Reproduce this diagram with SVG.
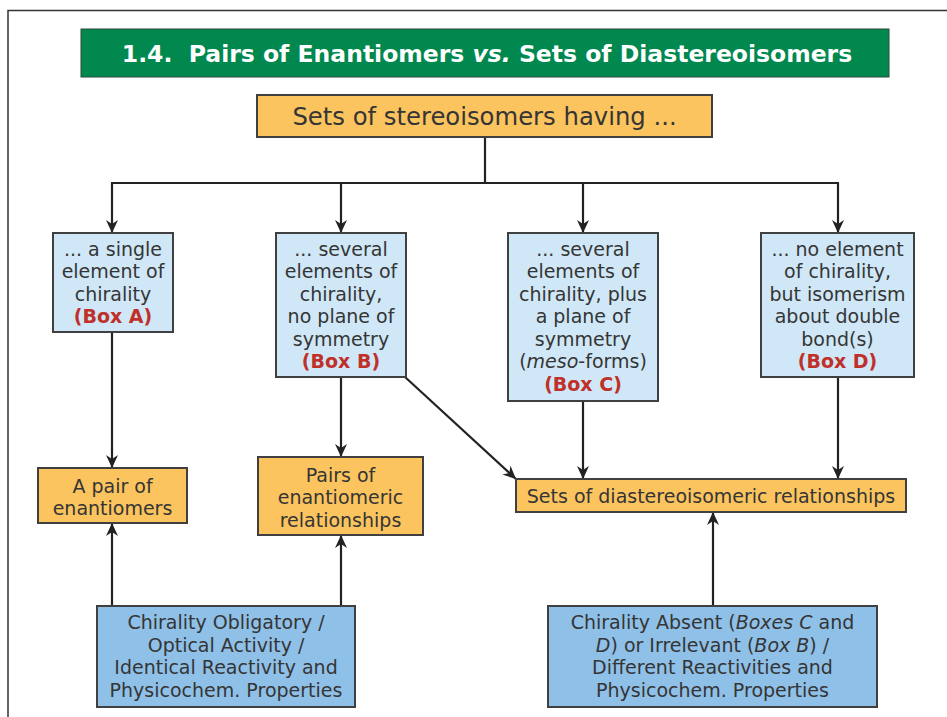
<svg xmlns="http://www.w3.org/2000/svg" width="947" height="717" viewBox="0 0 947 717">
  <style>
    .t { font-family: "DejaVu Sans", Verdana, sans-serif; fill: #353535; text-anchor: middle; }
    .box { font-size: 19px; }
    .red { fill: #c0302a; font-weight: bold; }
    .yel { fill: #fbc45e; stroke: #404040; stroke-width: 2; }
    .lb { fill: #cfe7f6; stroke: #404040; stroke-width: 2; }
    .db { fill: #8fc0e8; stroke: #404040; stroke-width: 2; }
    .conn { fill: none; stroke: #222222; stroke-width: 2.2; }
    .arr { marker-end: url(#ah); }
  </style>
  <defs>
    <marker id="ah" markerUnits="userSpaceOnUse" markerWidth="14" markerHeight="14" refX="13" refY="7" orient="auto">
      <path d="M0,1 L13,7 L0,13 L4,7 z" fill="#222222"/>
    </marker>
  </defs>

  <!-- page frame -->
  <rect x="0" y="0" width="947" height="717" fill="#ffffff"/>
  <path d="M8,730 L8,10.5 L960,10.5" fill="none" stroke="#333333" stroke-width="1.5"/>

  <!-- title banner -->
  <g id="title">
    <rect x="81" y="29" width="808" height="48" fill="#00884f" stroke="#2b4a3a" stroke-width="1"/>
    <text x="487" y="61.5" class="t" style="fill:#ffffff;font-weight:bold;font-size:23.5px">1.4.&#160; Pairs of Enantiomers <tspan font-style="italic">vs.</tspan> Sets of Diastereoisomers</text>
  </g>

  <!-- connectors -->
  <g id="connectors">
    <path class="conn" d="M485,137 L485,183 M111,183 L839,183"/>
    <path class="conn arr" d="M112,183 L112,233"/>
    <path class="conn arr" d="M341,183 L341,233"/>
    <path class="conn arr" d="M583,183 L583,233"/>
    <path class="conn arr" d="M838,183 L838,233"/>
    <path class="conn arr" d="M112,332 L112,468"/>
    <path class="conn arr" d="M341,377 L341,457"/>
    <path class="conn arr" d="M405,377 L516,479"/>
    <path class="conn arr" d="M583,401 L583,479"/>
    <path class="conn arr" d="M838,377 L838,479"/>
    <path class="conn arr" d="M112,606 L112,523"/>
    <path class="conn arr" d="M341,606 L341,535"/>
    <path class="conn arr" d="M713,606 L713,512"/>
  </g>

  <g id="root">
    <rect class="yel" x="257" y="95" width="455" height="42"/>
    <text x="484.5" y="125" class="t" style="font-size:24.3px">Sets of stereoisomers having ...</text>
  </g>

  <g id="boxA">
    <rect class="lb" x="53" y="233" width="120" height="99"/>
    <text class="t box" x="113" y="255.5">... a single</text>
    <text class="t box" x="113" y="278">element of</text>
    <text class="t box" x="113" y="300.5">chirality</text>
    <text class="t box red" x="113" y="323">(Box A)</text>
  </g>

  <g id="boxB">
    <rect class="lb" x="276" y="233" width="130" height="144"/>
    <text class="t box" x="341" y="255.5">... several</text>
    <text class="t box" x="341" y="278">elements of</text>
    <text class="t box" x="341" y="300.5">chirality,</text>
    <text class="t box" x="341" y="323">no plane of</text>
    <text class="t box" x="341" y="345.5">symmetry</text>
    <text class="t box red" x="341" y="368">(Box B)</text>
  </g>

  <g id="boxC">
    <rect class="lb" x="508" y="233" width="150" height="168"/>
    <text class="t box" x="583" y="255.5">... several</text>
    <text class="t box" x="583" y="278">elements of</text>
    <text class="t box" x="583" y="300.5">chirality, plus</text>
    <text class="t box" x="583" y="323">a plane of</text>
    <text class="t box" x="583" y="345.5">symmetry</text>
    <text class="t box" x="583" y="368">(<tspan font-style="italic">meso</tspan>-forms)</text>
    <text class="t box red" x="583" y="390.5">(Box C)</text>
  </g>

  <g id="boxD">
    <rect class="lb" x="761" y="233" width="153" height="144"/>
    <text class="t box" x="837.5" y="255.5">... no element</text>
    <text class="t box" x="837.5" y="278">of chirality,</text>
    <text class="t box" x="837.5" y="300.5">but isomerism</text>
    <text class="t box" x="837.5" y="323">about double</text>
    <text class="t box" x="837.5" y="345.5">bond(s)</text>
    <text class="t box red" x="837.5" y="368">(Box D)</text>
  </g>

  <g id="pairEnantiomers">
    <rect class="yel" x="38" y="468" width="149" height="55"/>
    <text class="t box" x="112.5" y="492.5">A pair of</text>
    <text class="t box" x="112.5" y="515">enantiomers</text>
  </g>

  <g id="pairsRelationships">
    <rect class="yel" x="258" y="457" width="165" height="78"/>
    <text class="t box" x="340.5" y="481.5">Pairs of</text>
    <text class="t box" x="340.5" y="504">enantiomeric</text>
    <text class="t box" x="340.5" y="526.5">relationships</text>
  </g>

  <g id="setsDiastereo">
    <rect class="yel" x="516" y="479" width="390" height="33"/>
    <text class="t box" x="711" y="502.5">Sets of diastereoisomeric relationships</text>
  </g>

  <g id="chiralityObligatory">
    <rect class="db" x="97" y="606" width="258" height="101"/>
    <text class="t box" x="226" y="629">Chirality Obligatory /</text>
    <text class="t box" x="226" y="651.5">Optical Activity /</text>
    <text class="t box" x="226" y="674">Identical Reactivity and</text>
    <text class="t box" x="226" y="696.5">Physicochem. Properties</text>
  </g>

  <g id="chiralityAbsent">
    <rect class="db" x="548" y="606" width="329" height="101"/>
    <text class="t box" x="712.5" y="629">Chirality Absent (<tspan font-style="italic">Boxes C</tspan> and</text>
    <text class="t box" x="712.5" y="651.5"><tspan font-style="italic">D</tspan>) or Irrelevant (<tspan font-style="italic">Box B</tspan>) /</text>
    <text class="t box" x="712.5" y="674">Different Reactivities and</text>
    <text class="t box" x="712.5" y="696.5">Physicochem. Properties</text>
  </g>
</svg>
